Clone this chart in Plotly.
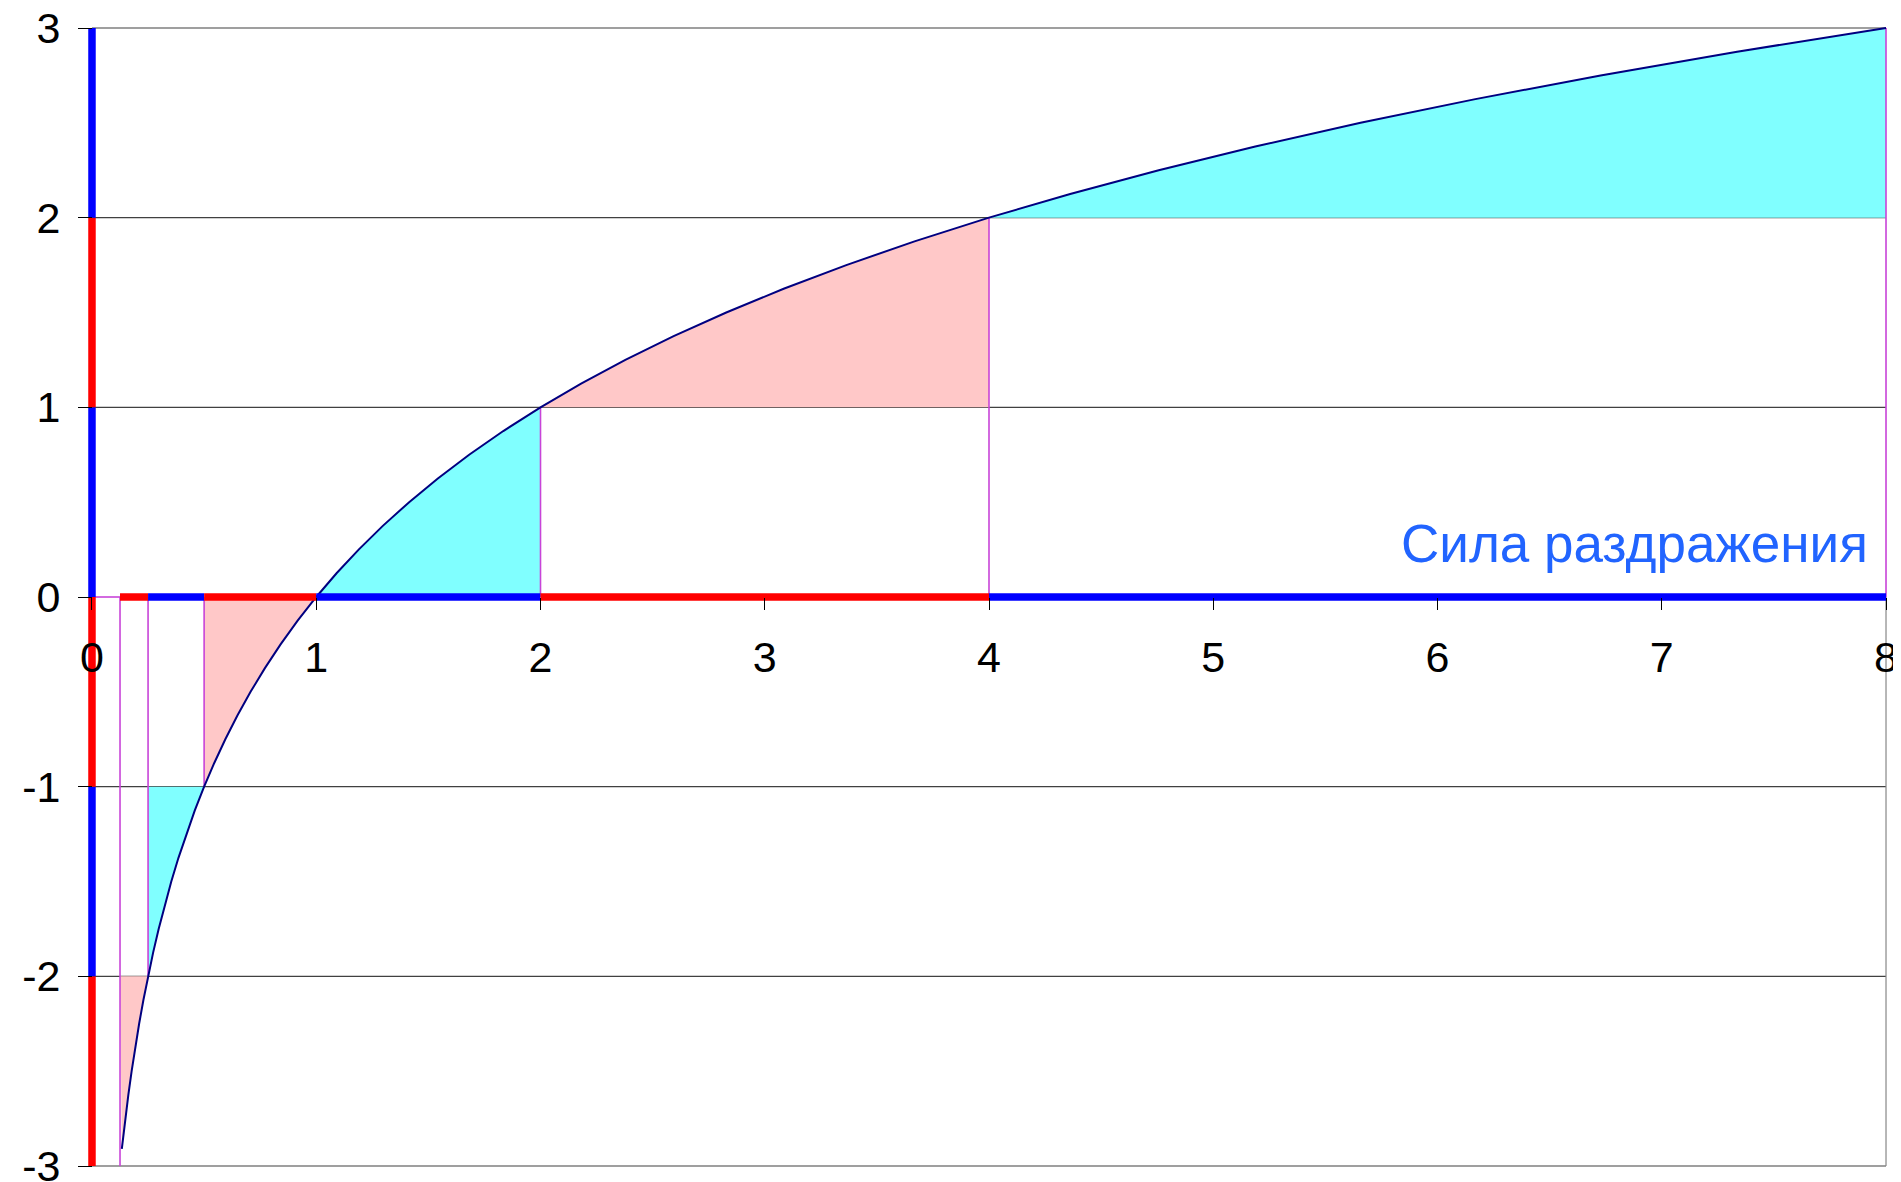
import plotly.graph_objects as go

# ---- data ----
curve_x = [0.133, 0.1363, 0.1487, 0.1621, 0.1768, 0.1928, 0.2102, 0.2293,
           0.25, 0.2726, 0.2973, 0.3242, 0.3536, 0.3856, 0.4204, 0.4585,
           0.5, 0.5453, 0.5946, 0.6484, 0.7071, 0.7711, 0.8409, 0.9170,
           1.0, 1.0905, 1.1892, 1.2968, 1.4142, 1.5422, 1.6818, 1.8340,
           2.0, 2.1810, 2.3784, 2.5937, 2.8284, 3.0844, 3.3636, 3.6680,
           4.0, 4.3620, 4.7568, 5.1874, 5.6569, 6.1688, 6.7272, 7.3360,
           8.0]
curve_y = [-2.91, -2.875, -2.75, -2.625, -2.5, -2.375, -2.25, -2.125,
           -2.0, -1.875, -1.75, -1.625, -1.5, -1.375, -1.25, -1.125,
           -1.0, -0.875, -0.75, -0.625, -0.5, -0.375, -0.25, -0.125,
           0.0, 0.125, 0.25, 0.375, 0.5, 0.625, 0.75, 0.875,
           1.0, 1.125, 1.25, 1.375, 1.5, 1.625, 1.75, 1.875,
           2.0, 2.125, 2.25, 2.375, 2.5, 2.625, 2.75, 2.875,
           3.0]

band_bounds = [0.125, 0.25, 0.5, 1, 2, 4, 8]      # x boundaries of shaded bands
band_base = [-2, -1, 0, 0, 1, 2]                   # level each band is shaded to
band_kind = ["pink", "cyan", "pink", "cyan", "pink", "cyan"]
drop_y = [-3, -2, -1, 0, 1, 2, 3]                  # curve value at each boundary

yaxis_bounds = [-3, -2, -1, 0, 1, 2, 3]
yaxis_kind = ["red", "blue", "red", "blue", "red", "blue"]

x_ticks = [0, 1, 2, 3, 4, 5, 6, 7, 8]
x_ticktext = ["0", "1", "2", "3", "4", "5", "6", "7", "8"]
y_ticks = [-3, -2, -1, 0, 1, 2, 3]
y_ticktext = ["-3", "-2", "-1", "0", "1", "2", "3"]

label_text = "Сила раздражения"

# ---- styling ----
FILL = {"pink": "#FFC8C8", "cyan": "#80FFFF"}
AXC = {"red": "#FF0000", "blue": "#0000FF"}
MAGENTA = "#C844D8"
GRID = "#404040"
FONT = "Liberation Sans, Arial, sans-serif"

fig = go.Figure()

def line(xs, ys, color, width):
    fig.add_trace(go.Scatter(x=xs, y=ys, mode="lines",
                             line=dict(color=color, width=width),
                             hoverinfo="skip", showlegend=False))

# horizontal gridlines
for g in y_ticks:
    if g != 0:
        line([x_ticks[0], x_ticks[-1]], [g, g], GRID, 1.2)
# right border below the axis
line([x_ticks[-1], x_ticks[-1]], [y_ticks[0], 0], "#888888", 1.2)

# shaded bands
for i in range(len(band_base)):
    x0, x1, base = band_bounds[i], band_bounds[i + 1], band_base[i]
    pts = [(cx, cy) for cx, cy in zip(curve_x, curve_y) if x0 <= cx <= x1]
    pts = sorted(pts, reverse=True)
    px = [x0, x1] + [p[0] for p in pts] + [x0]
    py = [base, base] + [p[1] for p in pts] + [base]
    fig.add_trace(go.Scatter(x=px, y=py, mode="lines", fill="toself",
                             fillcolor=FILL[band_kind[i]],
                             line=dict(width=0, color=FILL[band_kind[i]]),
                             hoverinfo="skip", showlegend=False))

# magenta drop lines
line([0, band_bounds[0]], [0, 0], MAGENTA, 1.6)
for bx, by in zip(band_bounds, drop_y):
    if by != 0:
        line([bx, bx], [0, by], MAGENTA, 1.6)

# curve
line(curve_x, curve_y, "#000080", 2)

# thick coloured x axis segments
for i in range(len(band_kind)):
    line([band_bounds[i], band_bounds[i + 1]], [0, 0],
         AXC["red" if band_kind[i] == "pink" else "blue"], 7.5)

# thick coloured y axis segments
for i in range(len(yaxis_kind)):
    line([0, 0], [yaxis_bounds[i], yaxis_bounds[i + 1]], AXC[yaxis_kind[i]], 7.5)

xr = [-0.0401, 8.0401]
yr = [-3.0474, 3.0527]
fig.add_annotation(x=7.93, y=0.28, xref="x", yref="y", text=label_text,
                   showarrow=False, xanchor="right", yanchor="middle",
                   font=dict(family=FONT, size=53, color="#2164FF"))

fig.update_layout(
    width=1901, height=1182,
    margin=dict(l=75, r=14, t=9.5, b=14.5, autoexpand=False),
    paper_bgcolor="white", plot_bgcolor="white",
    xaxis=dict(range=xr, tickvals=x_ticks, ticktext=x_ticktext,
               showgrid=False, zeroline=False, showline=False,
               ticks="outside", ticklen=12, tickcolor="black", tickwidth=1,
               anchor="free", position=(0 - yr[0]) / (yr[1] - yr[0]),
               ticklabelstandoff=10, ticklabeloverflow="allow",
               automargin=False,
               tickfont=dict(family=FONT, size=43, color="black")),
    yaxis=dict(range=yr, tickvals=y_ticks, ticktext=y_ticktext,
               showgrid=False, zeroline=False, showline=False,
               ticks="outside", ticklen=14, tickcolor="black", tickwidth=1,
               anchor="free", position=(0 - xr[0]) / (xr[1] - xr[0]),
               ticklabelstandoff=9, ticklabeloverflow="allow",
               automargin=False,
               tickfont=dict(family=FONT, size=43, color="black")),
)

fig.write_html("out.html")
